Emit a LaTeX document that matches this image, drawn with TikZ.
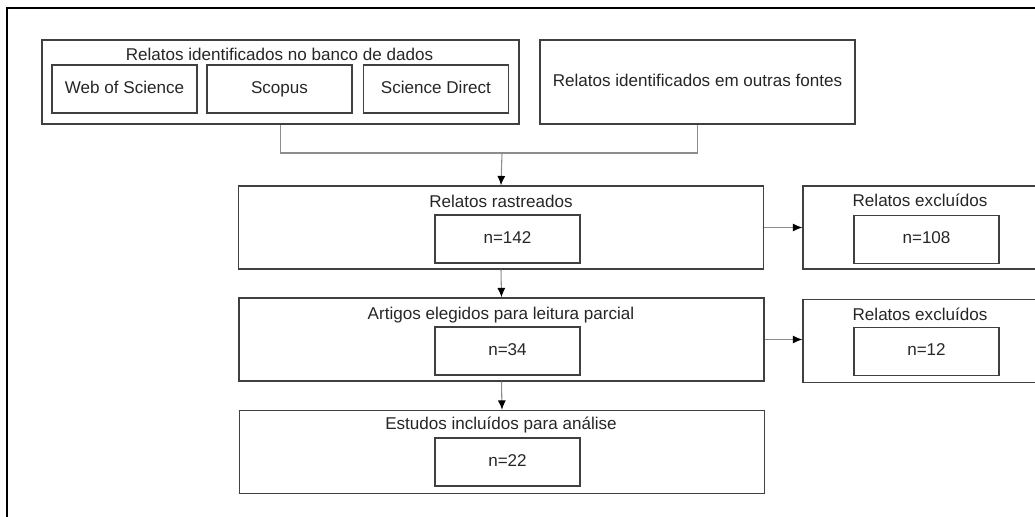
\documentclass[tikz,border=0pt]{standalone}
\usepackage{fontspec}
\setmainfont{Liberation Sans}
\usetikzlibrary{arrows.meta,calc}

\definecolor{boxgray}{HTML}{404040}
\definecolor{linegray}{HTML}{8C8C8C}
\definecolor{txtgray}{HTML}{262626}

\tikzset{
	txt/.style={text=txtgray, font=\fontsize{12.8}{15}\selectfont, inner sep=0pt, text height=9pt, text depth=2.5pt},
	box/.style={draw=boxgray, line width=1.1pt, inner sep=0pt},
	srcbox/.style={box, txt, minimum width=145*0.75pt, minimum height=48*0.75pt},
	numbox/.style={box, txt, minimum width=145*0.75pt, minimum height=48*0.75pt},
	stagebox/.style={box, minimum width=525*0.75pt, minimum height=83*0.75pt},
	exclbox/.style={box, minimum width=257*0.75pt, minimum height=83*0.75pt},
	link/.style={draw=linegray, line width=0.8pt},
	flow/.style={link, -{Latex[color=black,length=7pt,width=6pt]}}
}

\begin{document}
\begin{tikzpicture}[x=0.75pt,y=-0.75pt]
	\useasboundingbox (0,0) rectangle (1035,517);
	% frame
	\draw[line width=1.5pt] (7,517) -- (7,8) -- (1035,8);

	% sources
	\node[box, minimum width=477*0.75pt, minimum height=84*0.75pt] (db) at (280.5,82) {};
	\node[txt] (dbtitle) at (279.5,56) {Relatos identificados no banco de dados};
	\node[srcbox] (wos) at (124.5,89) {Web of Science};
	\node[srcbox] (scopus) at (279.5,89) {Scopus};
	\node[srcbox] (scidir) at (436,89) {Science Direct};

	\node[box, txt, minimum width=315*0.75pt, minimum height=84*0.75pt] (other) at (697.5,82) {Relatos identificados em outras fontes};

	% screening
	\node[stagebox] (rast) at (501,227.5) {};
	\node[txt] (rasttitle) at (501,203) {Relatos rastreados};
	\node[numbox] (rastn) at (507.5,239) {n=142};

	\node[exclbox] (excla) at (931.5,227.5) {};
	\node[txt] (exclatitle) at (920,202) {Relatos exclu\'{\i}dos};
	\node[numbox] (exclan) at (926.5,239.5) {n=108};

	% partial reading
	\node[stagebox] (art) at (501.5,339.5) {};
	\node[txt] (arttitle) at (501,315) {Artigos elegidos para leitura parcial};
	\node[numbox] (artn) at (507.5,351) {n=34};

	\node[exclbox] (exclb) at (931.5,341) {};
	\node[txt] (exclbtitle) at (920,316) {Relatos exclu\'{\i}dos};
	\node[numbox] (exclbn) at (926.5,351.5) {n=12};

	% included
	\node[stagebox] (est) at (502,452) {};
	\node[txt] (esttitle) at (501,425) {Estudos inclu\'{\i}dos para an\'alise};
	\node[numbox] (estn) at (507.5,462) {n=22};

	% connectors
	\coordinate (merge) at (502,153);
	\draw[link] (db.south) |- (merge) -| (other.south);
	\draw[flow] (merge) -- (rast.north);
	\draw[flow] (rast.south) -- (art.north);
	\draw[flow] (art.south) -- (est.north);
	\draw[flow] (rast.east) -- (excla.west);
	\draw[flow] (art.east) -- (art.east -| exclb.west);
\end{tikzpicture}
\end{document}
